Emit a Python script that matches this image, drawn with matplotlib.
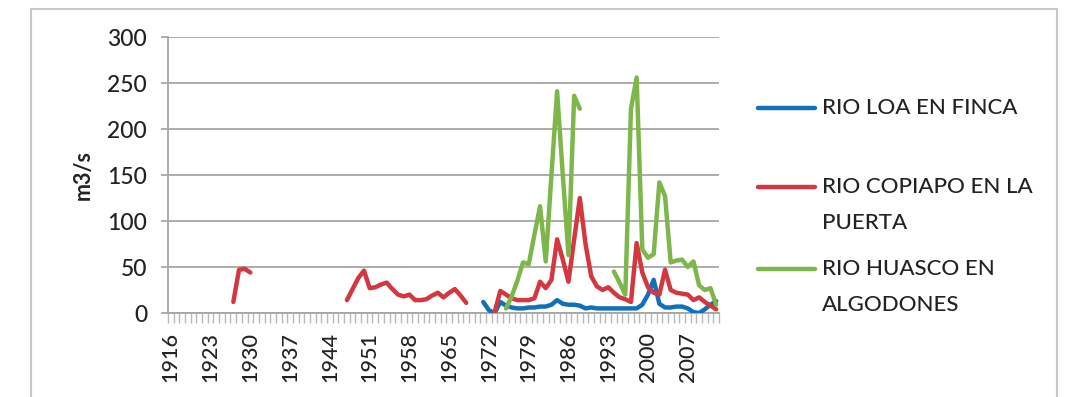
import numpy as np
import pandas as pd
import matplotlib
matplotlib.use("Agg")
import matplotlib.pyplot as plt
from matplotlib.lines import Line2D
from matplotlib.patches import Rectangle

plt.rcParams['font.family'] = ['Lato', 'DejaVu Sans']
plt.rcParams['font.weight'] = 'medium'

# --- datos (caudal medio anual, m3/s) ---
anios = list(range(1916, 2013))

loa_anios = list(range(1971, 2013))
loa = [12, 3, 0, 12, 8, 6, 5, 5, 6, 6, 7, 7, 9, 14, 10, 9, 9, 8, 5, 6, 5,
       5, 5, 5, 5, 5, 5, 5, 9, 20, 36, 10, 6, 6, 7, 7, 5, 1, 0, 4, 9, 13]

copiapo_anios = list(range(1927, 1931)) + list(range(1947, 1969)) + list(range(1973, 2013))
copiapo = [12, 47, 48, 44,
           14, 26, 38, 46, 27, 28, 31, 33, 26, 20, 18, 20, 14, 14, 15, 19, 22, 17, 22, 26, 19, 11,
           1, 24, 20, 16, 14, 14, 14, 16, 34, 27, 36, 80, 58, 34, 80, 125, 75, 40, 29, 25, 28,
           22, 17, 15, 12, 76, 44, 28, 22, 20, 47, 25, 22, 21, 20, 14, 17, 12, 8, 4]

huasco_anios = list(range(1975, 1989)) + list(range(1994, 2013))
huasco = [5, 18, 35, 55, 53, 85, 116, 56, 150, 241, 150, 63, 236, 222,
          45, 33, 20, 222, 256, 69, 60, 64, 142, 127, 55, 57, 58, 50, 56, 30, 25, 27, 9]

nombres = ['RIO LOA EN FINCA', 'RIO COPIAPO EN LA\nPUERTA', 'RIO HUASCO EN\nALGODONES']
colores = ['#1170BA', '#D3373F', '#7DB64A']

series = [
    pd.Series(loa, index=loa_anios).reindex(anios),
    pd.Series(copiapo, index=copiapo_anios).reindex(anios),
    pd.Series(huasco, index=huasco_anios).reindex(anios),
]

fig = plt.figure(figsize=(10.69, 3.97), dpi=100)
ax = fig.add_axes([168 / 1069, 84 / 397, 551 / 1069, 276 / 397])

pos = np.arange(len(anios))
for s, c in zip(series, colores):
    ax.plot(pos, s.values, color=c, lw=3.2, solid_joinstyle='round',
            solid_capstyle='round', zorder=3)

# ejes estilo Excel
gris = '#A6A6A6'
texto = '#222222'
ax.set_xlim(-0.5, len(anios) - 0.5)
ax.set_ylim(0, 300)
ax.set_yticks(range(0, 301, 50))
ax.yaxis.grid(True, color=gris, lw=1.3)
ax.set_axisbelow(True)
for lado in ['top', 'right']:
    ax.spines[lado].set_visible(False)
ax.spines['left'].set_color(gris)
ax.spines['bottom'].set_color(gris)
ax.spines['left'].set_linewidth(1.3)
ax.spines['bottom'].set_linewidth(1.3)

ax.tick_params(axis='y', length=5, width=1.3, color=gris, pad=10,
               labelsize=16.5, labelcolor=texto)
ax.set_xticks(pos[::7])
ax.set_xticklabels([str(a) for a in anios[::7]], rotation=90)
ax.set_xticks(np.arange(-0.5, len(anios), 1), minor=True)
ax.tick_params(axis='x', which='major', length=0, pad=14, labelsize=15.5,
               labelcolor=texto)
ax.tick_params(axis='x', which='minor', length=7, width=1.0, color='#B8B8B8')

ax.set_ylabel('m3/s', fontsize=15.5, fontweight='bold', color=texto, labelpad=10)

# leyenda manual (la linea va alineada con la primera linea del texto)
ley_y = [108, 187, 269]
for nombre, c, y in zip(nombres, colores, ley_y):
    yf = 1 - y / 397
    fig.add_artist(Line2D([758 / 1069, 815 / 1069], [yf, yf], color=c, lw=3.2,
                          solid_capstyle='round', transform=fig.transFigure))
    for k, linea in enumerate(nombre.split('\n')):
        fig.text(822 / 1069, yf - k * 36 / 397, linea, fontsize=16,
                 color=texto, va='center', ha='left')

# marco exterior
fig.add_artist(Rectangle((31 / 1069, -0.05), 1026 / 1069, 1.05 - 9 / 397,
                         transform=fig.transFigure, fill=False,
                         edgecolor='#C8C8C8', lw=1.5))

fig.savefig('out.png', dpi=100)
